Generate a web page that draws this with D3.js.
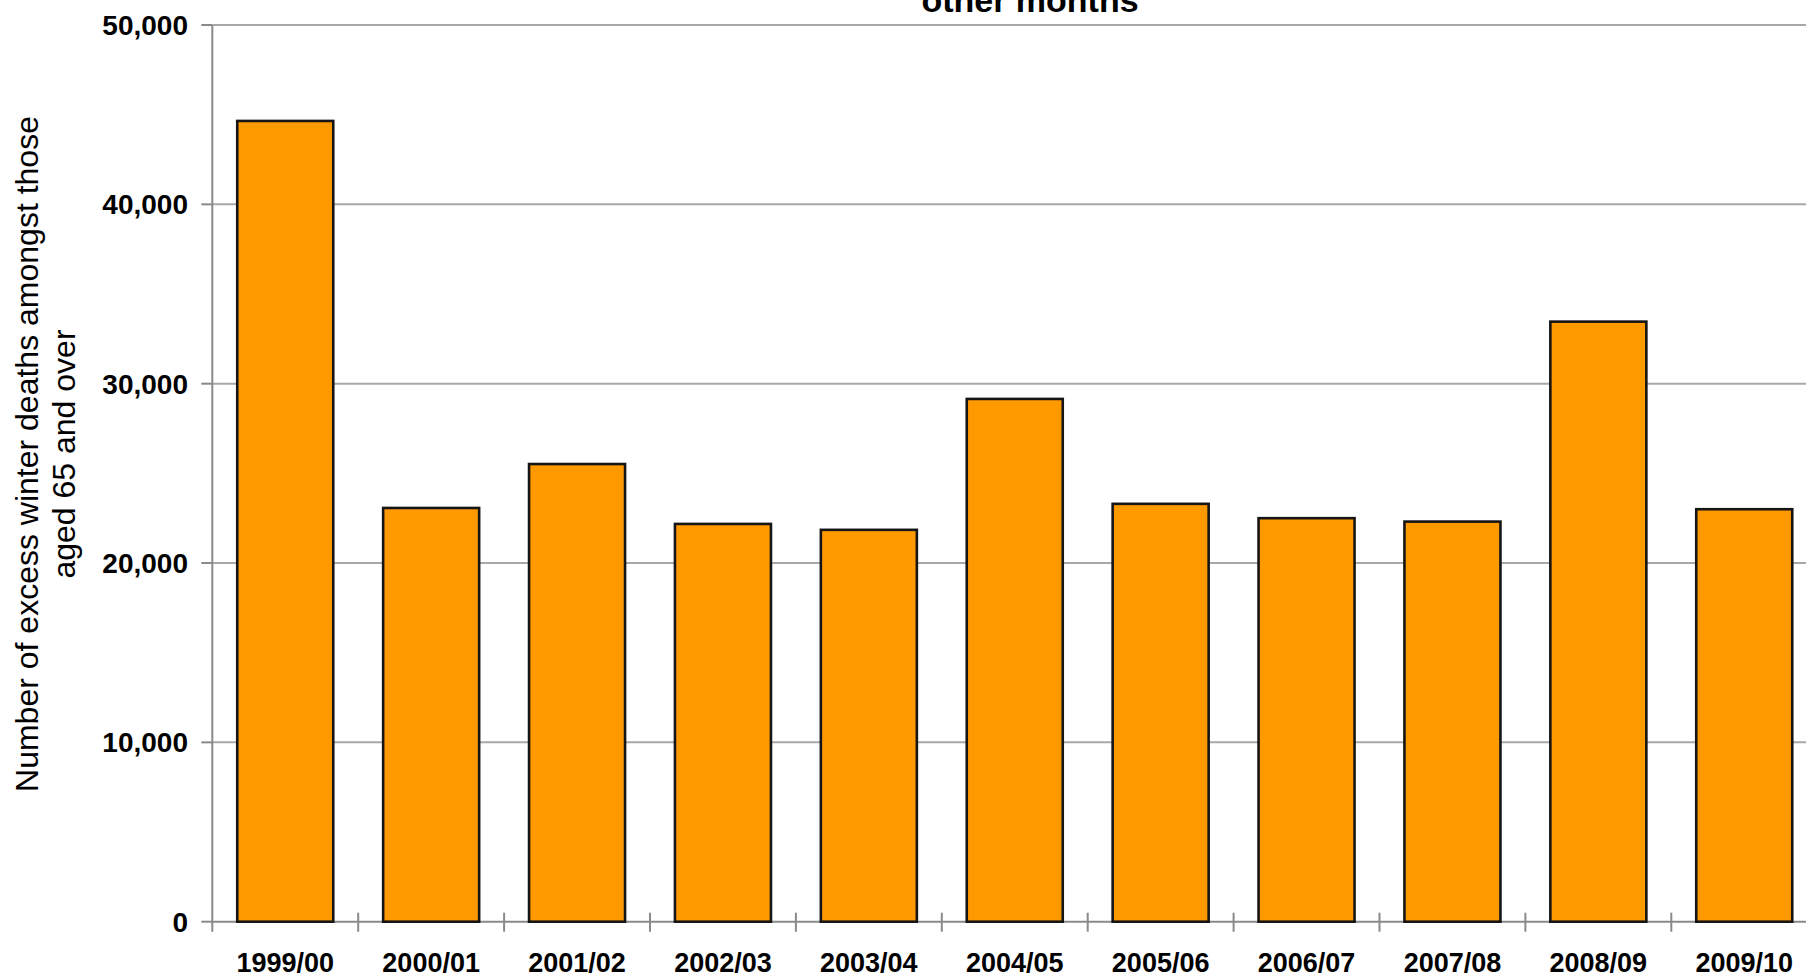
<!DOCTYPE html>
<html>
<head>
<meta charset="utf-8">
<script src="https://cdn.jsdelivr.net/npm/d3@7"></script>
<style>
  html, body { margin: 0; padding: 0; background: #fff; overflow: hidden; }
  svg { display: block; font-family: "Liberation Sans", Arial, sans-serif; }
</style>
</head>
<body>
<svg id="chart" width="1806" height="977"></svg>
<script>
// ---- data ----
const categories = ["1999/00","2000/01","2001/02","2002/03","2003/04","2004/05","2005/06","2006/07","2007/08","2008/09","2009/10"];
const excessDeaths = [44650, 23070, 25520, 22180, 21850, 29150, 23300, 22500, 22310, 33460, 23000];
const yTicks = [0, 10000, 20000, 30000, 40000, 50000];
const titleText = "other months";
const yTitleLines = ["Number of excess winter deaths amongst those", "aged 65 and over"];

// ---- layout ----
const plotLeft = 212.3, bandStep = 145.9;
const plotRight = plotLeft + bandStep * categories.length;
const plotTop = 25, plotBottom = 921.7;

const svg = d3.select("#chart");

const x = d3.scaleBand()
  .domain(categories)
  .range([plotLeft, plotRight])
  .paddingInner(0.342)
  .paddingOuter(0.171);

const y = d3.scaleLinear().domain([0, 50000]).range([plotBottom, plotTop]);

// gridlines
svg.append("g").selectAll("line")
  .data(yTicks.filter(d => d > 0))
  .join("line")
  .attr("x1", plotLeft).attr("x2", plotRight)
  .attr("y1", d => y(d)).attr("y2", d => y(d))
  .attr("stroke", "#a8a8a8").attr("stroke-width", 2);

// baseline
svg.append("line")
  .attr("x1", plotLeft).attr("x2", plotRight)
  .attr("y1", y(0)).attr("y2", y(0))
  .attr("stroke", "#8a8a8a").attr("stroke-width", 2);

// x ticks at band boundaries (cross style)
const boundaries = d3.range(1, categories.length + 1).map(i => plotLeft + i * bandStep);
svg.append("g").selectAll("line")
  .data(boundaries)
  .join("line")
  .attr("x1", d => d).attr("x2", d => d)
  .attr("y1", y(0) - 9).attr("y2", y(0) + 10)
  .attr("stroke", "#8a8a8a").attr("stroke-width", 2);

// bars
svg.append("g").selectAll("rect")
  .data(categories)
  .join("rect")
  .attr("x", d => x(d))
  .attr("y", (d, i) => y(excessDeaths[i]))
  .attr("width", x.bandwidth())
  .attr("height", (d, i) => y(0) - y(excessDeaths[i]))
  .attr("fill", "#FF9900")
  .attr("stroke", "#151515")
  .attr("stroke-width", 2.6);

// y axis line
svg.append("line")
  .attr("x1", plotLeft).attr("x2", plotLeft)
  .attr("y1", plotTop).attr("y2", y(0) + 10)
  .attr("stroke", "#8a8a8a").attr("stroke-width", 2);

// y ticks
svg.append("g").selectAll("line")
  .data(yTicks)
  .join("line")
  .attr("x1", plotLeft - 11).attr("x2", plotLeft)
  .attr("y1", d => y(d)).attr("y2", d => y(d))
  .attr("stroke", "#8a8a8a").attr("stroke-width", 2);

// y tick labels
const fmt = d3.format(",");
svg.append("g").selectAll("text")
  .data(yTicks)
  .join("text")
  .attr("x", 188)
  .attr("y", d => y(d))
  .attr("dy", "0.36em")
  .attr("text-anchor", "end")
  .attr("font-size", 28)
  .attr("font-weight", "bold")
  .attr("fill", "#000")
  .text(d => fmt(d));

// x labels
svg.append("g").selectAll("text")
  .data(categories)
  .join("text")
  .attr("x", d => x(d) + x.bandwidth() / 2)
  .attr("y", 972)
  .attr("text-anchor", "middle")
  .attr("font-size", 27)
  .attr("font-weight", "bold")
  .attr("fill", "#000")
  .text(d => d);

// y title
const yTitle = svg.append("text")
  .attr("transform", "translate(0,454) rotate(-90)")
  .attr("text-anchor", "middle")
  .attr("font-size", 32)
  .attr("fill", "#000");
yTitle.selectAll("tspan")
  .data(yTitleLines)
  .join("tspan")
  .attr("x", 0)
  .attr("y", (d, i) => 38 + i * 37)
  .text(d => d);

// title (partially cut off at top)
svg.append("text")
  .attr("x", 1030)
  .attr("y", 12)
  .attr("text-anchor", "middle")
  .attr("font-size", 34)
  .attr("font-weight", "bold")
  .attr("fill", "#000")
  .text(titleText);
</script>
</body>
</html>
